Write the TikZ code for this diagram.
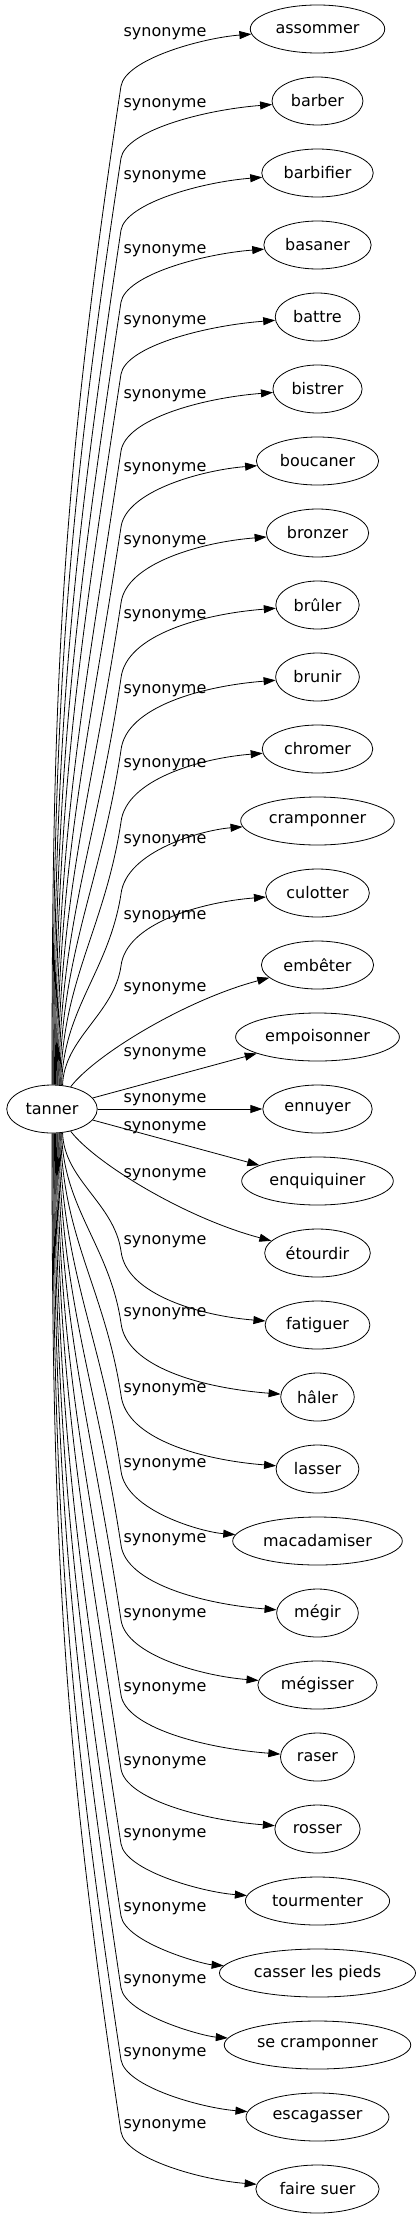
\documentclass[tikz,border=0pt]{standalone}
\usepackage{fontspec}
\setmainfont{DejaVu Sans}
\usetikzlibrary{shapes.geometric, arrows.meta}

\begin{document}
\begin{tikzpicture}[x=0.75pt, y=-0.75pt, line width=0.6pt]
	\tikzset{> = {Triangle[length=9pt, width=6pt]}}
	\tikzset{word/.style = {draw, ellipse, minimum height=36pt, inner xsep=4.2pt, inner ysep=3pt, font=\fontsize{12}{14}\selectfont},
	         syn/.style = {inner sep=0pt, font=\fontsize{12}{14}\selectfont}}
	\useasboundingbox (0,0) rectangle (417,2219);
	% words
	\node[word] (tanner) at (52,1109) {tanner};
	\node[word] (assommer) at (317.5,29) {assommer};
	\node[word] (barber) at (317.5,101) {barber};
	\node[word] (barbifier) at (317.5,173) {barbifier};
	\node[word] (basaner) at (317.5,245) {basaner};
	\node[word] (battre) at (317.5,317) {battre};
	\node[word] (bistrer) at (317.5,389) {bistrer};
	\node[word] (boucaner) at (317.5,461) {boucaner};
	\node[word] (bronzer) at (317.5,533) {bronzer};
	\node[word] (bruler) at (317.5,605) {brûler};
	\node[word] (brunir) at (317.5,677) {brunir};
	\node[word] (chromer) at (317.5,749) {chromer};
	\node[word] (cramponner) at (317.5,821) {cramponner};
	\node[word] (culotter) at (317.5,893) {culotter};
	\node[word] (embeter) at (317.5,965) {embêter};
	\node[word] (empoisonner) at (317.5,1037) {empoisonner};
	\node[word] (ennuyer) at (317.5,1109) {ennuyer};
	\node[word] (enquiquiner) at (317.5,1181) {enquiquiner};
	\node[word] (etourdir) at (317.5,1253) {étourdir};
	\node[word] (fatiguer) at (317.5,1325) {fatiguer};
	\node[word] (haler) at (317.5,1397) {hâler};
	\node[word] (lasser) at (317.5,1469) {lasser};
	\node[word] (macadamiser) at (317.5,1541) {macadamiser};
	\node[word] (megir) at (317.5,1613) {mégir};
	\node[word] (megisser) at (317.5,1685) {mégisser};
	\node[word] (raser) at (317.5,1757) {raser};
	\node[word] (rosser) at (317.5,1829) {rosser};
	\node[word] (tourmenter) at (317.5,1901) {tourmenter};
	\node[word] (casserpieds) at (317.5,1973) {casser les pieds};
	\node[word] (secramponner) at (317.5,2045) {se cramponner};
	\node[word] (escagasser) at (317.5,2117) {escagasser};
	\node[word] (fairesuer) at (317.5,2189) {faire suer};
	% labels
	\node[syn] (s0) at (165,34) {synonyme};
	\node[syn] (s1) at (165,105) {synonyme};
	\node[syn] (s2) at (165,177) {synonyme};
	\node[syn] (s3) at (165,251) {synonyme};
	\node[syn] (s4) at (165,322) {synonyme};
	\node[syn] (s5) at (165,396) {synonyme};
	\node[syn] (s6) at (165,469) {synonyme};
	\node[syn] (s7) at (165,542) {synonyme};
	\node[syn] (s8) at (165,616) {synonyme};
	\node[syn] (s9) at (165,691) {synonyme};
	\node[syn] (s10) at (165,765) {synonyme};
	\node[syn] (s11) at (165,841) {synonyme};
	\node[syn] (s12) at (165,917) {synonyme};
	\node[syn] (s13) at (165,989) {synonyme};
	\node[syn] (s14) at (165,1054) {synonyme};
	\node[syn] (s15) at (165,1100) {synonyme};
	\node[syn] (s16) at (165,1128) {synonyme};
	\node[syn] (s17) at (165,1175) {synonyme};
	\node[syn] (s18) at (165,1242) {synonyme};
	\node[syn] (s19) at (165,1314) {synonyme};
	\node[syn] (s20) at (165,1390) {synonyme};
	\node[syn] (s21) at (165,1465) {synonyme};
	\node[syn] (s22) at (165,1540) {synonyme};
	\node[syn] (s23) at (165,1615) {synonyme};
	\node[syn] (s24) at (165,1689) {synonyme};
	\node[syn] (s25) at (165,1763) {synonyme};
	\node[syn] (s26) at (165,1835) {synonyme};
	\node[syn] (s27) at (165,1909) {synonyme};
	\node[syn] (s28) at (165,1981) {synonyme};
	\node[syn] (s29) at (165,2054) {synonyme};
	\node[syn] (s30) at (165,2126) {synonyme};
	% edges up
	\draw[->] (tanner.90) .. controls (52,686) and (61,486) .. (121,86) .. controls (126,59) and (202,38) .. (assommer);
	\draw[->] (tanner.88) .. controls (53,715) and (65,529) .. (121,158) .. controls (126,131) and (202,110) .. (barber);
	\draw[->] (tanner.86) .. controls (54,744) and (70,572) .. (121,230) .. controls (126,203) and (202,182) .. (barbifier);
	\draw[->] (tanner.84) .. controls (55,772) and (74,616) .. (121,302) .. controls (126,275) and (202,254) .. (basaner);
	\draw[->] (tanner.82) .. controls (56,801) and (78,659) .. (121,374) .. controls (126,347) and (202,326) .. (battre);
	\draw[->] (tanner.80) .. controls (57,832) and (83,705) .. (121,451) .. controls (126,419) and (202,398) .. (bistrer);
	\draw[->] (tanner.78) .. controls (58,862) and (87,751) .. (121,527) .. controls (126,491) and (202,470) .. (boucaner);
	\draw[->] (tanner.76) .. controls (59,893) and (92,796) .. (121,603) .. controls (126,563) and (202,542) .. (bronzer);
	\draw[->] (tanner.74) .. controls (60,923) and (97,841) .. (121,678) .. controls (126,635) and (202,614) .. (bruler);
	\draw[->] (tanner.72) .. controls (61,952) and (101,884) .. (121,750) .. controls (126,707) and (202,686) .. (brunir);
	\draw[->] (tanner.70) .. controls (62,980) and (105,928) .. (121,822) .. controls (126,779) and (202,758) .. (chromer);
	\draw[->] (tanner.68) .. controls (63,1009) and (109,971) .. (121,894) .. controls (126,851) and (202,830) .. (cramponner);
	\draw[->] (tanner.66) .. controls (64,1038) and (114,1014) .. (121,966) .. controls (126,923) and (202,902) .. (culotter);
	\draw[->] (tanner.50) .. controls (95,1055) and (185,1000) .. (embeter);
	% edges across
	\draw[->] (tanner) -- (empoisonner);
	\draw[->] (tanner) -- (ennuyer);
	\draw[->] (tanner) -- (enquiquiner);
	% edges down
	\draw[->] (tanner.-50) .. controls (95,1163) and (185,1218) .. (etourdir);
	\draw[->] (tanner.294) .. controls (64,1180) and (114,1203) .. (121,1251) .. controls (126,1295) and (202,1316) .. (fatiguer);
	\draw[->] (tanner.292) .. controls (63,1208) and (110,1247) .. (121,1323) .. controls (126,1367) and (202,1388) .. (haler);
	\draw[->] (tanner.290) .. controls (62,1237) and (105,1290) .. (121,1395) .. controls (126,1439) and (202,1460) .. (lasser);
	\draw[->] (tanner.288) .. controls (61,1268) and (101,1335) .. (121,1471) .. controls (126,1511) and (202,1532) .. (macadamiser);
	\draw[->] (tanner.286) .. controls (60,1297) and (96,1380) .. (121,1545) .. controls (126,1583) and (202,1604) .. (megir);
	\draw[->] (tanner.284) .. controls (59,1327) and (92,1425) .. (121,1620) .. controls (126,1655) and (202,1676) .. (megisser);
	\draw[->] (tanner.282) .. controls (58,1357) and (87,1470) .. (121,1695) .. controls (126,1727) and (202,1748) .. (raser);
	\draw[->] (tanner.280) .. controls (57,1387) and (83,1514) .. (121,1769) .. controls (126,1799) and (202,1820) .. (rosser);
	\draw[->] (tanner.278) .. controls (56,1417) and (78,1559) .. (121,1844) .. controls (126,1871) and (202,1892) .. (tourmenter);
	\draw[->] (tanner.276) .. controls (55,1446) and (74,1602) .. (121,1916) .. controls (126,1943) and (202,1964) .. (casserpieds);
	\draw[->] (tanner.274) .. controls (54,1474) and (70,1646) .. (121,1988) .. controls (126,2015) and (202,2036) .. (secramponner);
	\draw[->] (tanner.272) .. controls (53,1503) and (65,1689) .. (121,2060) .. controls (126,2087) and (202,2108) .. (escagasser);
	\draw[->] (tanner.270) .. controls (52,1532) and (61,1732) .. (121,2132) .. controls (126,2159) and (202,2180) .. (fairesuer);
\end{tikzpicture}
\end{document}
